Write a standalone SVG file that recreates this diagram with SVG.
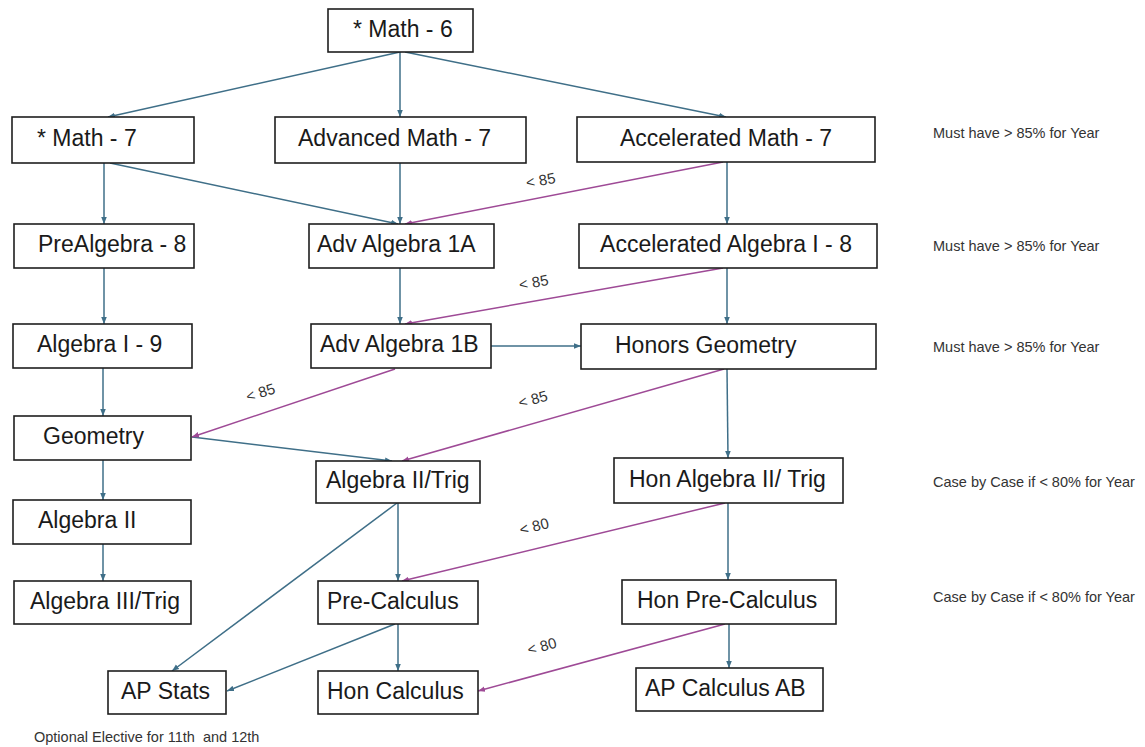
<svg xmlns="http://www.w3.org/2000/svg" width="1145" height="747" viewBox="0 0 1145 747">
<defs>
<style>
.box{fill:#fff;stroke:#1e1e1e;stroke-width:1.6}
.lbl{font-family:"Liberation Sans",Arial,sans-serif;font-size:23px;fill:#1a1a1a}
.note{font-family:"Liberation Sans",Arial,sans-serif;font-size:14.5px;fill:#333}
.cl{font-family:"Liberation Sans",Arial,sans-serif;font-size:15px;fill:#333}
.b{stroke:#3f6f88;stroke-width:1.5;fill:none;marker-end:url(#ab)}
.p{stroke:#9e4a96;stroke-width:1.5;fill:none;marker-end:url(#ap)}
</style>
<marker id="ab" viewBox="0 0 10 10" refX="10" refY="5" markerWidth="7" markerHeight="7" markerUnits="userSpaceOnUse" orient="auto"><path d="M0,1 L10,5 L0,9 z" fill="#3f6f88"/></marker>
<marker id="ap" viewBox="0 0 10 10" refX="10" refY="5" markerWidth="7" markerHeight="7" markerUnits="userSpaceOnUse" orient="auto"><path d="M0,1 L10,5 L0,9 z" fill="#9e4a96"/></marker>
</defs>
<rect width="1145" height="747" fill="#fff"/>
<g id="connectors">
<line class="b" x1="400" y1="52" x2="108" y2="117"/>
<line class="b" x1="400" y1="52" x2="400" y2="117"/>
<line class="b" x1="405" y1="52" x2="726" y2="117"/>
<line class="b" x1="104" y1="163" x2="104" y2="224"/>
<line class="b" x1="110" y1="163" x2="398" y2="224"/>
<line class="b" x1="400" y1="163" x2="400" y2="224"/>
<line class="b" x1="727" y1="162" x2="727" y2="224"/>
<line class="b" x1="104" y1="268" x2="104" y2="324"/>
<line class="b" x1="400" y1="268" x2="400" y2="324"/>
<line class="b" x1="727" y1="268" x2="727" y2="324"/>
<line class="b" x1="491" y1="346" x2="581" y2="346"/>
<line class="b" x1="103" y1="368" x2="103" y2="416"/>
<line class="b" x1="192" y1="437" x2="392" y2="461"/>
<line class="b" x1="727" y1="369" x2="728" y2="458"/>
<line class="b" x1="103" y1="460" x2="103" y2="500"/>
<line class="b" x1="397" y1="503" x2="172" y2="671"/>
<line class="b" x1="398" y1="503" x2="398" y2="581"/>
<line class="b" x1="728" y1="503" x2="728" y2="580"/>
<line class="b" x1="103" y1="544" x2="103" y2="581"/>
<line class="b" x1="395" y1="624" x2="227" y2="691"/>
<line class="b" x1="398" y1="624" x2="398" y2="671"/>
<line class="b" x1="729" y1="624" x2="729" y2="668"/>
<line class="p" x1="723" y1="162" x2="405" y2="224"/>
<line class="p" x1="723" y1="268" x2="405" y2="324"/>
<line class="p" x1="395" y1="369" x2="192" y2="437"/>
<line class="p" x1="724" y1="369" x2="402" y2="461"/>
<line class="p" x1="725" y1="503" x2="402" y2="581"/>
<line class="p" x1="725" y1="624" x2="478" y2="691"/>
<text class="cl" transform="translate(527,188) rotate(-10)">&lt; 85</text>
<text class="cl" transform="translate(520,290) rotate(-10)">&lt; 85</text>
<text class="cl" transform="translate(248,402) rotate(-18)">&lt; 85</text>
<text class="cl" transform="translate(520,408) rotate(-15)">&lt; 85</text>
<text class="cl" transform="translate(521,535) rotate(-14)">&lt; 80</text>
<text class="cl" transform="translate(529,655) rotate(-15)">&lt; 80</text>
</g>
<g id="math6"><rect class="box" x="328" y="9" width="145" height="43"/><text class="lbl" x="353" y="37">* Math - 6</text></g>
<g id="math7"><rect class="box" x="12" y="117" width="182" height="46"/><text class="lbl" x="37" y="146">* Math - 7</text></g>
<g id="advmath7"><rect class="box" x="275" y="117" width="251" height="46"/><text class="lbl" x="298" y="146">Advanced Math - 7</text></g>
<g id="accmath7"><rect class="box" x="577" y="117" width="298" height="45"/><text class="lbl" x="726" y="146" text-anchor="middle">Accelerated Math - 7</text></g>
<g id="prealg8"><rect class="box" x="14" y="224" width="180" height="44"/><text class="lbl" x="38" y="252">PreAlgebra - 8</text></g>
<g id="advalg1a"><rect class="box" x="309" y="224" width="185" height="44"/><text class="lbl" x="317" y="252">Adv Algebra 1A</text></g>
<g id="accalg8"><rect class="box" x="579" y="224" width="298" height="44"/><text class="lbl" x="726" y="252" text-anchor="middle">Accelerated Algebra I - 8</text></g>
<g id="alg9"><rect class="box" x="13" y="324" width="179" height="44"/><text class="lbl" x="37" y="352">Algebra I - 9</text></g>
<g id="advalg1b"><rect class="box" x="311" y="324" width="180" height="44"/><text class="lbl" x="320" y="352">Adv Algebra 1B</text></g>
<g id="honorsgeo"><rect class="box" x="581" y="324" width="295" height="45"/><text class="lbl" x="615" y="353">Honors Geometry</text></g>
<g id="geometry"><rect class="box" x="14" y="416" width="177" height="44"/><text class="lbl" x="43" y="444">Geometry</text></g>
<g id="alg2trig"><rect class="box" x="316" y="461" width="164" height="42"/><text class="lbl" x="326" y="488">Algebra II/Trig</text></g>
<g id="honalg2trig"><rect class="box" x="614" y="458" width="229" height="45"/><text class="lbl" x="629" y="487">Hon Algebra II/ Trig</text></g>
<g id="alg2"><rect class="box" x="13" y="500" width="178" height="44"/><text class="lbl" x="38" y="528">Algebra II</text></g>
<g id="alg3trig"><rect class="box" x="14" y="581" width="177" height="43"/><text class="lbl" x="30" y="609">Algebra III/Trig</text></g>
<g id="precalc"><rect class="box" x="318" y="581" width="160" height="43"/><text class="lbl" x="327" y="609">Pre-Calculus</text></g>
<g id="honprecalc"><rect class="box" x="622" y="580" width="214" height="44"/><text class="lbl" x="637" y="608">Hon Pre-Calculus</text></g>
<g id="apstats"><rect class="box" x="108" y="671" width="118" height="43"/><text class="lbl" x="121" y="699">AP Stats</text></g>
<g id="honcalc"><rect class="box" x="318" y="671" width="160" height="43"/><text class="lbl" x="327" y="699">Hon Calculus</text></g>
<g id="apcalcab"><rect class="box" x="636" y="668" width="187" height="43"/><text class="lbl" x="645" y="696">AP Calculus AB</text></g>
<g id="notes">
<text class="note" x="933" y="138">Must have &gt; 85% for Year</text>
<text class="note" x="933" y="251">Must have &gt; 85% for Year</text>
<text class="note" x="933" y="352">Must have &gt; 85% for Year</text>
<text class="note" x="933" y="487">Case by Case if &lt; 80% for Year</text>
<text class="note" x="933" y="602">Case by Case if &lt; 80% for Year</text>
<text class="note" x="34" y="742" style="white-space:pre">Optional Elective for 11th  and 12th</text>
</g>
</svg>
